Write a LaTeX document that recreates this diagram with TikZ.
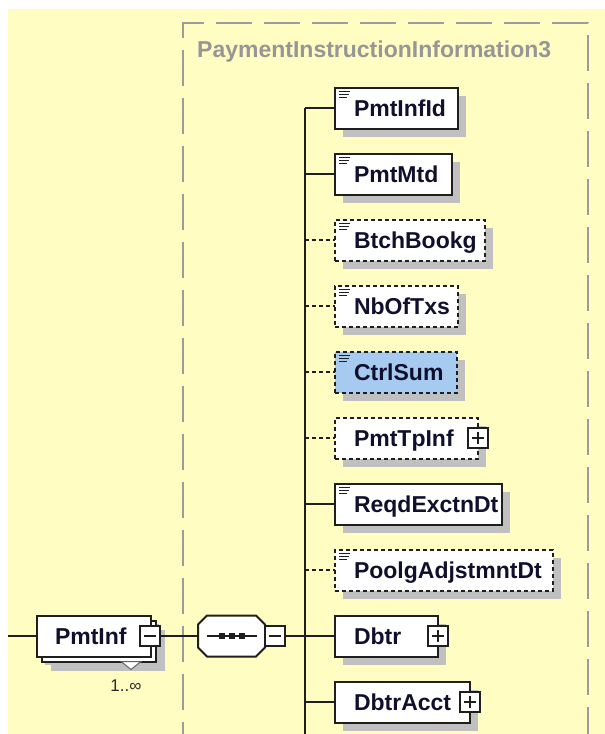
\documentclass[tikz,border=0pt]{standalone}
\usepackage{fontspec}
\setmainfont{Liberation Sans}
\usetikzlibrary{calc, shadows}
\definecolor{paneyellow}{HTML}{FFFDC2}
\definecolor{framegray}{HTML}{9C9C9C}
\definecolor{boxdark}{HTML}{1E1E1E}
\definecolor{shadowgray}{HTML}{C0C0C0}
\definecolor{nametext}{HTML}{10102E}
\definecolor{selblue}{HTML}{A6CAF0}
\definecolor{titlegray}{HTML}{969696}
\definecolor{occtext}{HTML}{33262A}
\hyphenpenalty=10000
\exhyphenpenalty=10000

\tikzset{
	elem/.style={draw=boxdark, line width=2pt, fill=white, anchor=west, outer sep=0pt,
		minimum height=41pt, inner xsep=19pt, inner ysep=0pt, align=left,
		text height=16.5pt, text depth=0pt, text=nametext,
		font=\bfseries\fontsize{23}{25}\selectfont,
		drop shadow={shadow xshift=8pt, shadow yshift=-8pt, fill=shadowgray, opacity=1}},
	optelem/.style={elem, dash pattern=on 4pt off 3pt},
	conn/.style={boxdark, line width=1.7pt},
	optconn/.style={conn, dash pattern=on 4pt off 3pt},
	plusbox/.style={draw=boxdark, fill=white, line width=1.6pt, minimum width=20pt,
		minimum height=20pt, inner sep=0pt, outer sep=0pt,
		path picture={\draw[boxdark, line width=1.4pt]
			($(path picture bounding box.west)+(4,0)$) -- ($(path picture bounding box.east)+(-4,0)$)
			($(path picture bounding box.north)+(0,4)$) -- ($(path picture bounding box.south)+(0,-4)$);}},
	minusbox/.style={plusbox,
		path picture={\draw[boxdark, line width=1.4pt]
			($(path picture bounding box.west)+(4,0)$) -- ($(path picture bounding box.east)+(-4,0)$);}}
}

% documentation mark in the top left corner of an element box
\newcommand{\docmark}[1]{%
	\draw[boxdark, line width=1pt]
	($(#1.north west)+(4,3.5)$) -- ++(11,0)
	($(#1.north west)+(4,6.5)$) -- ++(10,0)
	($(#1.north west)+(4,9.5)$) -- ++(8,0);}

% octagon outline of a compositor node
\newcommand{\octapath}[1]{%
	($(#1.north west)+(9,0)$) -- ($(#1.north east)+(-9,0)$) -- ($(#1.north east)+(0,9)$)
	-- ($(#1.south east)+(0,-9)$) -- ($(#1.south east)+(-9,0)$) -- ($(#1.south west)+(9,0)$)
	-- ($(#1.south west)+(0,-9)$) -- ($(#1.north west)+(0,9)$) -- cycle}

\begin{document}
\begin{tikzpicture}[x=1pt, y=-1pt, line cap=butt, line join=miter]
	
	\useasboundingbox (0,0) rectangle (605,734);
	\fill[white] (0,0) rectangle (605,734);
	\fill[paneyellow] (8,9) rectangle (605,734);
	
	%========================
	% complex type frame
	%========================
	\draw[framegray, line width=2.4pt, dash pattern=on 36pt off 12pt, dash phase=18pt]
	(183,740) -- (183,23) -- (588,23) -- (588,740);
	\node[anchor=base west, text=titlegray, font=\bfseries\fontsize{23}{25}\selectfont, inner sep=0pt]
	(typetitle) at (197,57) {PaymentInstructionInformation3};
	
	%========================
	% Left: PmtInf element and sequence
	%========================
	\coordinate (instub) at (8,636);
	\node[elem, text width=78pt, inner xsep=18pt,
	drop shadow={shadow xshift=14pt, shadow yshift=-14pt, fill=shadowgray, opacity=1},
	general shadow={shadow xshift=5pt, shadow yshift=-5pt, draw=boxdark, fill=white, line width=2pt}]
	(pmtinf) at (37,636) {PmtInf};
	\node[minusbox] (pmtinfminus) at ($(pmtinf.east)+(-1,0)$) {};
	% occurrence marker
	\draw[boxdark!70, line width=1pt, fill=white]
	($(pmtinf.south east)+(-30,5)$) -- ($(pmtinf.south east)+(-10,5)$)
	-- ($(pmtinf.south east)+(-20,13)$) -- cycle;
	\node[text=occtext, font=\fontsize{17}{19}\selectfont, inner sep=0pt]
	(pmtinfocc) at (126,686) {1..∞};
	
	% sequence compositor
	\node[minimum width=67pt, minimum height=41pt, inner sep=0pt, outer sep=0pt]
	(seq) at (231.5,636) {};
	\fill[shadowgray, shift={(8,8)}] \octapath{seq};
	\filldraw[draw=boxdark, fill=white, line width=2pt] \octapath{seq};
	\draw[conn] ($(seq.west)+(9,0)$) -- ($(seq.east)+(-8,0)$);
	\fill[boxdark] ($(seq.center)+(-13,-3)$) rectangle ++(6,6);
	\fill[boxdark] ($(seq.center)+(-3,-3)$) rectangle ++(6,6);
	\fill[boxdark] ($(seq.center)+(7,-3)$) rectangle ++(6,6);
	\node[minusbox, anchor=west] (seqminus) at (seq.east) {};
	
	\draw[conn] (instub) -- (pmtinf.west);
	\draw[conn] (pmtinfminus.east) -- (seq.west);
	
	%========================
	% Right: child elements
	%========================
	\node[elem, text width=85pt] (pmtinfid) at (335,108) {PmtInfId};
	\node[elem, text width=79pt] (pmtmtd) at (335,174) {PmtMtd};
	\node[optelem, text width=112pt] (btchbookg) at (335,240) {BtchBookg};
	\node[optelem, text width=85pt] (nboftxs) at (335,306) {NbOfTxs};
	\node[optelem, fill=selblue, text width=84pt] (ctrlsum) at (335,372) {CtrlSum};
	\node[optelem, text width=105pt] (pmttpinf) at (335,438) {PmtTpInf};
	\node[elem, text width=129pt] (reqdexctndt) at (335,504) {ReqdExctnDt};
	\node[optelem, text width=180pt] (poolgadjstmntdt) at (335,570) {PoolgAdjstmntDt};
	\node[elem, text width=65pt] (dbtr) at (335,636) {Dbtr};
	\node[elem, text width=97pt] (dbtracct) at (335,702) {DbtrAcct};
	
	\docmark{pmtinfid}
	\docmark{pmtmtd}
	\docmark{btchbookg}
	\docmark{nboftxs}
	\docmark{ctrlsum}
	\docmark{reqdexctndt}
	\docmark{poolgadjstmntdt}
	
	\node[plusbox] (pmttpinfplus) at (pmttpinf.east) {};
	\node[plusbox] (dbtrplus) at (dbtr.east) {};
	\node[plusbox] (dbtracctplus) at (dbtracct.east) {};
	
	% sequence bus
	\coordinate (bustop) at (305,108);
	\coordinate (busbot) at (305,740);
	\draw[conn] (bustop) -- (busbot);
	\draw[conn] (seqminus.east) -- (dbtr.west);
	\draw[conn] (bustop) -- (pmtinfid.west);
	\draw[conn] (bustop |- pmtmtd.west) -- (pmtmtd.west);
	\draw[optconn] (bustop |- btchbookg.west) -- (btchbookg.west);
	\draw[optconn] (bustop |- nboftxs.west) -- (nboftxs.west);
	\draw[optconn] (bustop |- ctrlsum.west) -- (ctrlsum.west);
	\draw[optconn] (bustop |- pmttpinf.west) -- (pmttpinf.west);
	\draw[conn] (bustop |- reqdexctndt.west) -- (reqdexctndt.west);
	\draw[optconn] (bustop |- poolgadjstmntdt.west) -- (poolgadjstmntdt.west);
	\draw[conn] (bustop |- dbtracct.west) -- (dbtracct.west);
	
\end{tikzpicture}
\end{document}
